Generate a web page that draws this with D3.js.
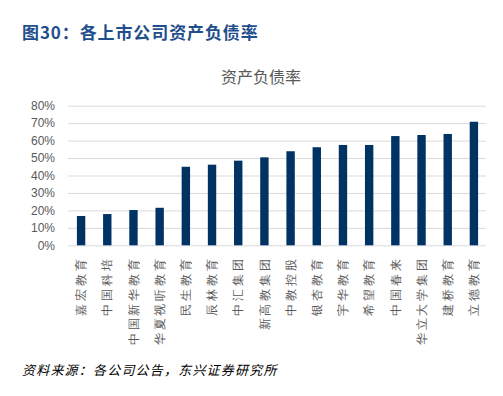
<!DOCTYPE html>
<html><head><meta charset="utf-8">
<script src="https://cdn.jsdelivr.net/npm/d3@7"></script>
<style>
body{margin:0;background:#fff;}
svg{display:block;font-family:"Noto Sans CJK SC","Microsoft YaHei",sans-serif;}
</style></head>
<body>
<svg id="c" width="503" height="396"></svg>
<script>
const categories = ["嘉宏教育","中国科培","中国新华教育","华夏视听教育","民生教育","辰林教育","中汇集团","新高教集团","中教控股","银杏教育","宇华教育","希望教育","中国春来","华立大学集团","建桥教育","立德教育"];
const values = [0.168,0.179,0.202,0.215,0.450,0.462,0.485,0.504,0.539,0.562,0.575,0.575,0.626,0.632,0.638,0.708];
const yTicks = [0,0.1,0.2,0.3,0.4,0.5,0.6,0.7,0.8];

const svg = d3.select("#c");
const x = d3.scaleBand().domain(categories).range([68,487]).paddingInner(0.68).paddingOuter(0.34);
const y = d3.scaleLinear().domain([0,0.8]).range([245.3,105.7]);

svg.append("text").attr("x",22).attr("y",39).attr("font-size",17).attr("font-weight","bold")
  .attr("letter-spacing","0.9px").attr("fill","#1F4E8C").text("图30：各上市公司资产负债率");

svg.append("text").attr("x",261).attr("y",83).attr("text-anchor","middle").attr("font-size",16)
  .attr("fill","#595959").text("资产负债率");

const yAxis = d3.axisLeft(y).tickValues(yTicks).tickFormat(d3.format(".0%")).tickSize(-(486-68)).tickPadding(13);
const gy = svg.append("g").attr("transform","translate(68,0)").call(yAxis);
gy.select(".domain").remove();
gy.selectAll(".tick line").attr("stroke","#D9D9D9").attr("stroke-width",1);
gy.selectAll(".tick text").attr("fill","#595959").attr("font-size",12).attr("font-family","Liberation Sans, Arial, sans-serif");

svg.append("g").selectAll("rect").data(values).join("rect")
  .attr("x",(d,i)=>x(categories[i])).attr("width",x.bandwidth())
  .attr("y",d=>y(d)).attr("height",d=>y(0)-y(d)).attr("fill","#003263");

const xAxis = d3.axisBottom(x).tickSize(0).tickPadding(0);
const gx = svg.append("g").attr("transform","translate(0,245.3)").call(xAxis);
gx.select(".domain").remove();
gx.selectAll(".tick text").attr("fill","#595959").attr("font-size",12).attr("letter-spacing","2.8px")
  .attr("text-anchor","end").attr("dy","0.35em")
  .attr("transform","translate(0,11) rotate(-90)").attr("x",0).attr("y",0);

svg.append("text").attr("x",22).attr("y",375).attr("font-size",13).attr("font-style","italic")
  .attr("letter-spacing","1.2px").attr("fill","#000").text("资料来源：各公司公告，东兴证券研究所");
</script>
</body></html>
